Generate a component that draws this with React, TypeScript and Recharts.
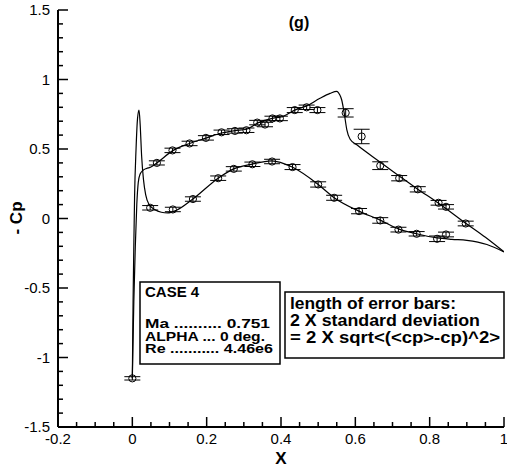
import React from 'react';
import { ComposedChart, Line, Scatter, XAxis, YAxis, ErrorBar } from 'recharts';

// CFD curves: [x, -Cp]
const upperCurve: number[][] = [
  [0, -1.15], [0.004, -0.6], [0.008, -0.2], [0.012, 0.1], [0.016, 0.26], [0.021, 0.32],
  [0.028, 0.345], [0.038, 0.36], [0.05, 0.37], [0.066, 0.4], [0.11, 0.49], [0.154, 0.54],
  [0.2, 0.58], [0.24, 0.615], [0.276, 0.632], [0.307, 0.642], [0.336, 0.685], [0.379, 0.722],
  [0.4, 0.73], [0.437, 0.78], [0.469, 0.81], [0.505, 0.865], [0.532, 0.9], [0.55, 0.915],
  [0.558, 0.89], [0.563, 0.856], [0.57, 0.76], [0.577, 0.64], [0.586, 0.57], [0.604, 0.53],
  [0.667, 0.405], [0.718, 0.305], [0.767, 0.213], [0.824, 0.11], [0.896, -0.032],
  [0.95, -0.135], [1.0, -0.24],
];
const lowerCurve: number[][] = [
  [0, -1.15], [0.002, -0.6], [0.004, -0.2], [0.006, 0.15], [0.01, 0.5], [0.014, 0.72],
  [0.018, 0.78], [0.021, 0.68], [0.025, 0.45], [0.03, 0.28], [0.036, 0.17], [0.045, 0.1],
  [0.06, 0.065], [0.078, 0.045], [0.095, 0.04], [0.118, 0.058], [0.163, 0.14], [0.231, 0.29],
  [0.271, 0.355], [0.32, 0.39], [0.375, 0.415], [0.43, 0.37], [0.5, 0.245], [0.543, 0.15],
  [0.608, 0.055], [0.667, -0.012], [0.716, -0.075], [0.765, -0.11], [0.82, -0.14],
  [0.86, -0.15], [0.9, -0.157], [0.954, -0.187], [1.0, -0.24],
];

// Experimental points: [x, -Cp, half error]
const upperExp: number[][] = [
  [0, -1.15, 0.012], [0.066, 0.4, 0.015], [0.108, 0.49, 0.016], [0.154, 0.54, 0.016],
  [0.198, 0.58, 0.016], [0.24, 0.62, 0.016], [0.276, 0.63, 0.016], [0.307, 0.635, 0.016],
  [0.336, 0.69, 0.016], [0.357, 0.676, 0.016], [0.377, 0.72, 0.016], [0.397, 0.72, 0.016],
  [0.437, 0.78, 0.018], [0.469, 0.8, 0.016], [0.498, 0.78, 0.018], [0.574, 0.76, 0.03],
  [0.617, 0.59, 0.052], [0.667, 0.38, 0.028], [0.718, 0.29, 0.019], [0.768, 0.21, 0.019],
  [0.824, 0.113, 0.017], [0.844, 0.084, 0.016], [0.897, -0.036, 0.017],
];
const lowerExp: number[][] = [
  [0.048, 0.077, 0.016], [0.109, 0.065, 0.016], [0.163, 0.14, 0.016], [0.231, 0.29, 0.016],
  [0.273, 0.357, 0.016], [0.323, 0.39, 0.016], [0.376, 0.41, 0.016], [0.431, 0.37, 0.018],
  [0.5, 0.245, 0.019], [0.543, 0.149, 0.018], [0.61, 0.053, 0.019], [0.667, -0.014, 0.02],
  [0.716, -0.08, 0.017], [0.765, -0.11, 0.016], [0.82, -0.146, 0.02], [0.844, -0.115, 0.017],
];

const xMajor = [-0.2, 0, 0.2, 0.4, 0.6, 0.8, 1];
const xTicks = [
  -0.2, -0.15, -0.1, -0.05, 0, 0.05, 0.1, 0.15, 0.2, 0.25, 0.3, 0.35, 0.4, 0.45, 0.5,
  0.55, 0.6, 0.65, 0.7, 0.75, 0.8, 0.85, 0.9, 0.95, 1,
];
const yMajor = [-1.5, -1, -0.5, 0, 0.5, 1, 1.5];
const yTicks = [
  -1.5, -1.4, -1.3, -1.2, -1.1, -1, -0.9, -0.8, -0.7, -0.6, -0.5, -0.4, -0.3, -0.2, -0.1, 0,
  0.1, 0.2, 0.3, 0.4, 0.5, 0.6, 0.7, 0.8, 0.9, 1, 1.1, 1.2, 1.3, 1.4, 1.5,
];

const caseLines = ['Ma .......... 0.751', 'ALPHA ... 0 deg.', 'Re ........... 4.46e6'];
const caseWidths = [125, 120, 128];
const noteLines = ['length of error bars:', '2 X standard deviation', '= 2 X sqrt<(<cp>-cp)^2>'];
const noteWidths = [166, 190, 210];

const FONT = '"Liberation Sans", Arial, Helvetica, sans-serif';
const TICK_MARGIN = 8;

const toXY = (arr: number[][]) => arr.map((p) => ({ x: p[0], y: p[1] }));
const toPts = (arr: number[][]) => arr.map((p) => ({ x: p[0], y: p[1], e: p[2] }));
const isMajor = (v: number, majors: number[]) => majors.some((m) => Math.abs(m - v) < 1e-9);

const YTick = (props: any) => {
  const { x, y, payload } = props;
  const v = payload.value as number;
  const major = isMajor(v, yMajor);
  const ax = x + TICK_MARGIN;
  return (
    <g>
      <line x1={ax} x2={ax + (major ? 10 : 5)} y1={y} y2={y} stroke="#000" strokeWidth={1.5} />
      {major && (
        <text x={x} y={y} dy="0.36em" textAnchor="end" fontFamily={FONT} fontSize={15} fill="#000">
          {String(v)}
        </text>
      )}
    </g>
  );
};

const XTick = (props: any) => {
  const { x, y, payload } = props;
  const v = payload.value as number;
  const major = isMajor(v, xMajor);
  const ay = y - TICK_MARGIN + 2;
  return (
    <g>
      <line x1={x} x2={x} y1={ay} y2={ay - (major ? 10 : 5)} stroke="#000" strokeWidth={1.5} />
      {major && (
        <text x={x} y={y} dy="0.71em" textAnchor="middle" fontFamily={FONT} fontSize={15} fill="#000">
          {String(v)}
        </text>
      )}
    </g>
  );
};

const Ring = (props: any) => {
  const { cx, cy } = props;
  if (cx == null || cy == null) return null;
  return <circle cx={cx} cy={cy} r={3.6} fill="none" stroke="#000" strokeWidth={1} />;
};

export default function App() {
  return (
    <div style={{ position: 'absolute', left: 0, top: 0, width: 507, height: 470, background: '#fff' }}>
      <ComposedChart
        width={507}
        height={470}
        margin={{ top: 10, right: 3, bottom: 0, left: 0 }}
      >
        <XAxis
          type="number"
          dataKey="x"
          domain={[-0.2, 1]}
          ticks={xTicks}
          interval={0}
          allowDataOverflow
          height={43}
          tickLine={false}
          tickSize={0}
          tickMargin={6}
          axisLine={{ stroke: '#000', strokeWidth: 2 }}
          tick={<XTick />}
        />
        <YAxis
          type="number"
          dataKey="y"
          domain={[-1.5, 1.5]}
          ticks={yTicks}
          interval={0}
          allowDataOverflow
          width={58}
          tickLine={false}
          tickSize={0}
          tickMargin={TICK_MARGIN}
          axisLine={{ stroke: '#000', strokeWidth: 2 }}
          tick={<YTick />}
        />
        <Line
          data={toXY(upperCurve)}
          dataKey="y"
          type="monotoneX"
          stroke="#000"
          strokeWidth={1.2}
          dot={false}
          activeDot={false}
          isAnimationActive={false}
        />
        <Line
          data={toXY(lowerCurve)}
          dataKey="y"
          type="monotoneX"
          stroke="#000"
          strokeWidth={1.2}
          dot={false}
          activeDot={false}
          isAnimationActive={false}
        />
        <Scatter data={toPts(upperExp)} dataKey="y" shape={<Ring />} isAnimationActive={false}>
          <ErrorBar dataKey="e" direction="y" width={8} stroke="#000" strokeWidth={1} />
        </Scatter>
        <Scatter data={toPts(lowerExp)} dataKey="y" shape={<Ring />} isAnimationActive={false}>
          <ErrorBar dataKey="e" direction="y" width={8} stroke="#000" strokeWidth={1} />
        </Scatter>
      </ComposedChart>
      <svg
        width={507}
        height={470}
        style={{ position: 'absolute', left: 0, top: 0, pointerEvents: 'none' }}
      >
        <text x={299} y={28} textAnchor="middle" fontFamily={FONT} fontWeight="bold" fontSize={16}>
          (g)
        </text>
        <text
          x={0}
          y={0}
          transform="translate(22,218) rotate(-90)"
          textAnchor="middle"
          fontFamily={FONT}
          fontWeight="bold"
          fontSize={17}
        >
          - Cp
        </text>
        <text x={281} y={464} textAnchor="middle" fontFamily={FONT} fontWeight="bold" fontSize={17}>
          X
        </text>
        <rect x={140} y={282} width={140} height={82} fill="#fff" stroke="#000" strokeWidth={1.5} />
        <text x={145} y={297} fontFamily={FONT} fontWeight="bold" fontSize={15}>
          CASE 4
        </text>
        {caseLines.map((t, i) => (
          <text
            key={t}
            x={145}
            y={328 + i * 12.5}
            fontFamily={FONT}
            fontWeight="bold"
            fontSize={12.5}
            textLength={caseWidths[i]}
            lengthAdjust="spacingAndGlyphs"
          >
            {t}
          </text>
        ))}
        <rect x={285} y={292} width={219} height={66} fill="#fff" stroke="#000" strokeWidth={1.5} />
        {noteLines.map((t, i) => (
          <text
            key={t}
            x={290}
            y={309 + i * 17}
            fontFamily={FONT}
            fontWeight="bold"
            fontSize={16}
            textLength={noteWidths[i]}
            lengthAdjust="spacingAndGlyphs"
          >
            {t}
          </text>
        ))}
      </svg>
    </div>
  );
}
